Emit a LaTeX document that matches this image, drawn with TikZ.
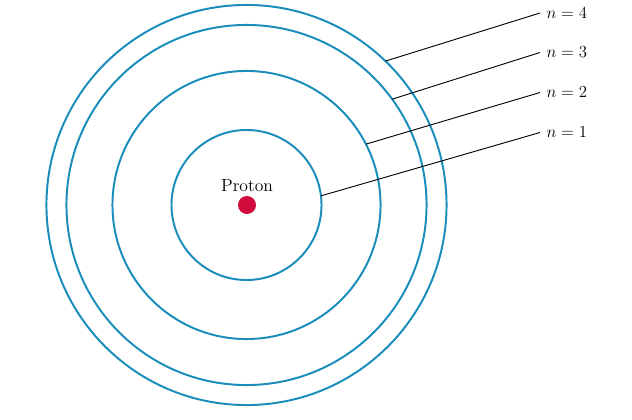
\documentclass[tikz,border=0pt]{standalone}
\usepackage{xcolor}
\usepackage{tikz}
\usetikzlibrary{positioning}
\definecolor{OrbitBlue}{HTML}{1A8DBB}
\definecolor{ProtonRed}{HTML}{D20A3C}
\tikzset{
  % Orbit circle
  orbit/.style={circle,draw=OrbitBlue,line width=1.4pt,inner sep=0pt,outer sep=0pt},
  % Nucleus
  nucleus/.style={circle,fill=ProtonRed,minimum size=0.45cm,inner sep=0pt},
  % Labels
  lvl/.style={anchor=west,inner sep=0pt,xshift=1.6mm,font=\fontsize{12.5}{14}\selectfont},
  lead/.style={line width=0.65pt}
}
\begin{document}
\begin{tikzpicture}[x=0.025cm,y=-0.025cm]
  \useasboundingbox (0,0) rectangle (632,420);
  \coordinate (c) at (246.5,205);
  \node[orbit,minimum size=3.75cm] (o1) at (c) {};
  \node[orbit,minimum size=6.7cm] (o2) at (c) {};
  \node[orbit,minimum size=9cm] (o3) at (c) {};
  \node[orbit,minimum size=10cm] (o4) at (c) {};
  \node[nucleus] (proton) at (247,205) {};
  \node[above=0.5mm of proton,inner sep=1pt,font=\fontsize{12.5}{14}\selectfont] (ptext) {Proton};
  \coordinate (e4) at (540,13);
  \coordinate (e3) at (540,52.5);
  \coordinate (e2) at (540,92.5);
  \coordinate (e1) at (540,132.5);
  \node[lvl] (l4) at (e4) {$n = 4$};
  \node[lvl] (l3) at (e3) {$n = 3$};
  \node[lvl] (l2) at (e2) {$n = 2$};
  \node[lvl] (l1) at (e1) {$n = 1$};
  \draw[lead](o4.46.4)--(e4);
  \draw[lead](o3.36.7)--(e3);
  \draw[lead](o2.27.1)--(e2);
  \draw[lead](o1.7.6)--(e1);
\end{tikzpicture}
\end{document}
